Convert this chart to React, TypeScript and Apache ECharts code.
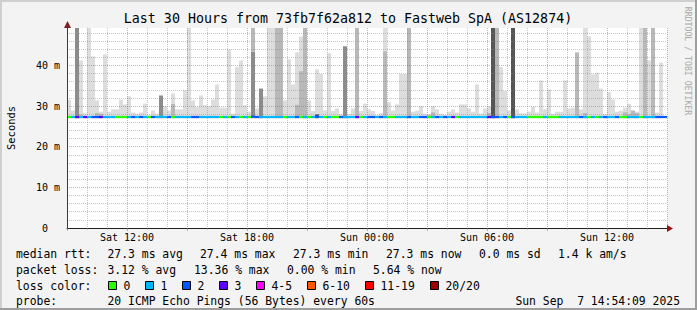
import React, { useEffect, useRef } from 'react';
import * as echarts from 'echarts';

// ---------- data ----------
const titleText = 'Last 30 Hours from 73fb7f62a812 to Fastweb SpA (AS12874)';
const watermarkText = 'RRDTOOL / TOBI OETIKER';
const yAxisName = 'Seconds';

const hoursMin = 0;
const hoursMax = 30;
const xTickHours = [3, 9, 15, 21, 27];
const xTickLabels = ['Sat 12:00', 'Sat 18:00', 'Sun 00:00', 'Sun 06:00', 'Sun 12:00'];

const yMin = 0;
const yMax = 49.2;
const yTickValues = [0, 10, 20, 30, 40];
const yTickLabels = ['0\u00a0\u00a0', '10 m', '20 m', '30 m', '40 m'];

const smokeBase = 27.0;

// loss code per 12-minute column (index into lossColors)
const lossCodes = [
  0, 1, 3, 1, 3, 1, 2, 2, 3, 1,
  1, 1, 0, 0, 0, 1, 2, 1, 2, 1,
  0, 2, 1, 1, 1, 2, 0, 1, 1, 1,
  1, 2, 2, 1, 1, 1, 1, 1, 0, 1,
  0, 2, 1, 0, 1, 0, 2, 2, 1, 1,
  1, 1, 1, 1, 0, 1, 1, 2, 0, 1,
  0, 1, 2, 1, 0, 1, 0, 0, 2, 1,
  1, 1, 3, 0, 1, 2, 2, 1, 2, 1,
  0, 0, 1, 1, 1, 2, 1, 1, 2, 2,
  0, 1, 2, 1, 2, 1, 3, 0, 1, 1,
  1, 1, 1, 1, 1, 3, 2, 2, 1, 2,
  0, 2, 1, 1, 1, 0, 0, 0, 0, 1,
  0, 0, 0, 1, 1, 1, 1, 1, 2, 1,
  0, 1, 0, 1, 2, 1, 1, 2, 0, 0,
  1, 1, 1, 0, 1, 1, 1, 2, 2, 2,
];

const medianRtt = [
  27.3, 27.3, 27.3, 27.3, 27.3, 27.3, 27.3, 27.3, 27.3, 27.3,
  27.3, 27.3, 27.3, 27.3, 27.3, 27.3, 27.3, 27.3, 27.3, 27.3,
  27.3, 27.3, 27.3, 27.4, 27.3, 27.3, 27.3, 27.3, 27.3, 27.3,
  27.3, 27.3, 27.3, 27.3, 27.3, 27.3, 27.3, 27.3, 27.3, 27.3,
  27.3, 27.3, 27.3, 27.3, 27.3, 27.3, 27.4, 27.3, 27.3, 27.3,
  27.3, 27.3, 27.3, 27.3, 27.3, 27.3, 27.3, 27.3, 27.3, 27.3,
  27.3, 27.3, 27.4, 27.3, 27.3, 27.3, 27.3, 27.3, 27.3, 27.3,
  27.3, 27.3, 27.3, 27.3, 27.3, 27.3, 27.3, 27.3, 27.3, 27.3,
  27.3, 27.3, 27.3, 27.3, 27.3, 27.3, 27.3, 27.3, 27.3, 27.3,
  27.3, 27.3, 27.3, 27.3, 27.3, 27.3, 27.3, 27.3, 27.3, 27.3,
  27.3, 27.3, 27.3, 27.3, 27.3, 27.3, 27.3, 27.3, 27.3, 27.3,
  27.3, 27.3, 27.3, 27.3, 27.3, 27.3, 27.3, 27.3, 27.3, 27.3,
  27.3, 27.3, 27.3, 27.3, 27.3, 27.3, 27.3, 27.3, 27.3, 27.3,
  27.3, 27.3, 27.3, 27.3, 27.3, 27.3, 27.3, 27.3, 27.3, 27.3,
  27.3, 27.3, 27.3, 27.3, 27.3, 27.3, 27.3, 27.3, 27.3, 27.3,
];

// smoke layer tops (ms); 0 = layer absent in this column
const smokeLight = [
  31.6, 28.9, 0, 41.2, 28.2, 50, 42.2, 31.4, 28.6, 42.7,
  28.6, 29.2, 29.2, 31.6, 30.4, 32.4, 28.4, 28.1, 28.4, 30.6,
  27.8, 28.9, 28.1, 0, 30.0, 28.9, 33.1, 29.2, 29.2, 33.9,
  50, 31.4, 29.8, 32.6, 30.2, 30.0, 31.6, 35.3, 29.6, 29.6,
  43.9, 28.1, 39.6, 41.2, 30.2, 28.6, 0, 29.4, 0, 32.4,
  50, 50, 0, 0, 31.4, 41.5, 35.3, 43.2, 47.1, 0,
  31.4, 28.8, 39.0, 37.9, 28.9, 43.0, 28.8, 29.4, 28.0, 0,
  28.0, 29.4, 0, 28.8, 30.6, 29.2, 28.8, 27.8, 28.2, 50,
  30.9, 28.9, 30.4, 37.9, 37.9, 0, 28.6, 28.9, 30.0, 28.1,
  28.0, 30.0, 29.2, 28.1, 27.8, 28.6, 29.2, 28.4, 30.4, 30.4,
  29.4, 28.6, 35.3, 28.1, 29.4, 30.0, 0, 0, 39.6, 33.7,
  28.9, 0, 29.2, 28.2, 28.2, 28.6, 29.8, 28.4, 36.3, 29.2,
  34.1, 28.1, 28.6, 28.6, 36.3, 29.4, 29.6, 0, 29.2, 50,
  47.1, 37.8, 38.2, 34.3, 28.0, 33.4, 31.6, 28.6, 28.9, 29.6,
  30.6, 0, 28.6, 50, 0, 41.2, 0, 28.4, 40.7, 0,
];

const smokeMid = [
  0, 0, 0, 28.0, 0, 0, 0, 28.3, 28.2, 0,
  0, 0, 0, 0, 0, 0, 0, 0, 0, 0,
  0, 0, 0, 0, 0, 0, 30.6, 0, 0, 0,
  0, 0, 0, 0, 0, 0, 0, 0, 0, 0,
  0, 0, 0, 0, 0, 0, 50, 0, 0, 0,
  0, 0, 50, 50, 0, 0, 0, 30.4, 38.6, 50,
  0, 0, 0, 0, 0, 0, 0, 0, 0, 0,
  0, 0, 50, 0, 0, 0, 0, 0, 0, 43.5,
  0, 0, 0, 0, 0, 50, 0, 0, 0, 0,
  27.9, 28.5, 0, 0, 0, 0, 0, 0, 0, 0,
  0, 0, 0, 0, 0, 28.3, 0, 50, 0, 0,
  0, 0, 0, 0, 0, 0, 0, 0, 0, 0,
  0, 0, 0, 0, 0, 0, 0, 43.2, 0, 28.4,
  0, 0, 0, 0, 0, 0, 0, 0, 0, 28.5,
  28.2, 28.9, 28.4, 0, 50, 0, 50, 0, 0, 0,
];

const smokeDark = [
  0, 0, 50, 0, 0, 0, 0, 0, 0, 0,
  0, 0, 0, 0, 0, 0, 0, 0, 0, 0,
  0, 0, 0, 32.6, 0, 0, 0, 0, 0, 0,
  0, 0, 0, 0, 0, 0, 0, 0, 0, 0,
  0, 0, 0, 0, 0, 0, 43.4, 0, 34.3, 0,
  0, 0, 0, 0, 0, 0, 0, 0, 0, 0,
  0, 0, 0, 0, 0, 0, 0, 0, 0, 44.7,
  0, 0, 0, 0, 0, 0, 0, 0, 0, 0,
  0, 0, 0, 0, 0, 0, 0, 0, 0, 0,
  0, 0, 0, 0, 0, 0, 0, 0, 0, 0,
  0, 0, 0, 0, 0, 0, 0, 0, 0, 0,
  0, 0, 0, 0, 0, 0, 0, 0, 0, 0,
  0, 0, 0, 0, 0, 0, 0, 0, 0, 0,
  0, 0, 0, 0, 0, 0, 0, 0, 0, 0,
  0, 0, 0, 0, 0, 0, 0, 0, 0, 0,
];

const smokeBlack = [
  0, 0, 0, 0, 0, 0, 0, 0, 0, 0,
  0, 0, 0, 0, 0, 0, 0, 0, 0, 0,
  0, 0, 0, 0, 0, 0, 0, 0, 0, 0,
  0, 0, 0, 0, 0, 0, 0, 0, 0, 0,
  0, 0, 0, 0, 0, 0, 0, 0, 0, 0,
  0, 0, 0, 0, 0, 0, 0, 0, 0, 0,
  0, 0, 28.0, 0, 0, 0, 0, 0, 0, 0,
  0, 0, 0, 0, 0, 0, 0, 0, 0, 0,
  0, 0, 0, 0, 0, 0, 0, 0, 0, 0,
  0, 0, 0, 0, 0, 0, 0, 0, 0, 0,
  0, 0, 0, 0, 0, 0, 50, 0, 0, 0,
  0, 50, 0, 0, 0, 0, 0, 0, 0, 0,
  0, 0, 0, 0, 0, 0, 0, 0, 0, 0,
  0, 0, 0, 0, 0, 0, 0, 0, 0, 0,
  0, 0, 0, 0, 0, 0, 0, 0, 0, 0,
];

const lossColors = ['#26ff00', '#00b8ff', '#0059ff', '#5e00ff', '#ff00ff', '#ff5500', '#ff0000', '#a10000'];
const lossLabels = ['0', '1', '2', '3', '4-5', '6-10', '11-19', '20/20'];

const medianTitle = 'median rtt:';
const medianStats = ['27.3 ms avg', '27.4 ms max', '27.3 ms min', '27.3 ms now', '0.0 ms sd', '1.4 k am/s'];
const lossTitle = 'packet loss:';
const lossStats = ['3.12 % avg', '13.36 % max', '0.00 % min', '5.64 % now'];
const colorTitle = 'loss color:';
const probeTitle = 'probe:';
const probeText = '20 ICMP Echo Pings (56 Bytes) every 60s';
const dateText = 'Sun Sep\u00a0 7 14:54:09 2025';

// ---------- layout / style ----------
const MONO = '"DejaVu Sans Mono", "Liberation Mono", monospace';
const GRID_MINOR = 'rgba(143,143,143,0.5)';
const GRID_MAJOR = 'rgba(205,80,80,0.5)';
const LAYER_COLORS = ['#555555', '#8c8c8c', '#b8b8b8', '#dddddd'];
const medianStatX = [107.5, 200, 293, 386, 479, 558];
const lossStatX = [107.5, 194, 287, 373];
const boxX = [108, 145, 182, 219, 256, 307, 365, 430];
const rowY = [254, 270, 286, 301];

export default function App() {
  const ref = useRef<HTMLDivElement>(null);

  useEffect(() => {
    if (!ref.current) return;
    const chart = echarts.init(ref.current, undefined, { renderer: 'svg' });
    const n = lossCodes.length;
    const cats = lossCodes.map((_, i) => String(i));

    const layers = [smokeBlack, smokeDark, smokeMid, smokeLight];
    const stacked: number[][] = layers.map(() => []);
    for (let i = 0; i < n; i++) {
      let prev = smokeBase;
      layers.forEach((arr, k) => {
        const top = Math.max(arr[i], prev);
        stacked[k].push(+(top - prev).toFixed(3));
        prev = top;
      });
    }
    const baseData = cats.map(() => smokeBase);
    const medBase = medianRtt.map((v) => +(v - 0.27).toFixed(3));
    const medBand = medianRtt.map((_, i) => ({
      value: 0.54,
      itemStyle: { color: lossColors[lossCodes[i]] },
    }));

    const barCommon = {
      type: 'bar',
      xAxisIndex: 2,
      yAxisIndex: 0,
      barWidth: '100%',
      barGap: '-100%',
      barCategoryGap: '0%',
      silent: true,
      clip: true,
    };

    const font = (size: number) => `${size}px ${MONO}`;
    const txt = (text: string, x: number, y: number, size = 11.4, align = 'left', fill = '#000') => ({
      type: 'text',
      x,
      y,
      silent: true,
      style: {
        text,
        font: font(size),
        fill,
        align,
        verticalAlign: 'middle',
        textAlign: align,
        textVerticalAlign: 'middle',
      },
    });

    const graphics: any[] = [
      { type: 'rect', shape: { x: 0, y: 0, width: 697, height: 2 }, style: { fill: '#cfcfcf' }, silent: true },
      { type: 'rect', shape: { x: 0, y: 0, width: 2, height: 310 }, style: { fill: '#cfcfcf' }, silent: true },
      { type: 'rect', shape: { x: 695, y: 0, width: 2, height: 310 }, style: { fill: '#9e9e9e' }, silent: true },
      { type: 'rect', shape: { x: 0, y: 308, width: 697, height: 2 }, style: { fill: '#9e9e9e' }, silent: true },
      txt(titleText, 348, 18, 13.3, 'center'),
      {
        type: 'text',
        x: 688,
        y: 61,
        rotation: -Math.PI / 2,
        silent: true,
        style: {
          text: watermarkText,
          font: font(8.2),
          fill: '#a8a8a8',
          align: 'center',
          verticalAlign: 'middle',
          textAlign: 'center',
          textVerticalAlign: 'middle',
        },
      },
      // axis arrows
      { type: 'polygon', z: 100, shape: { points: [[667, 225], [673, 228.5], [667, 232]] }, style: { fill: '#a01010' }, silent: true },
      { type: 'polygon', z: 100, shape: { points: [[64, 28], [67.5, 21], [71, 28]] }, style: { fill: '#801f1f' }, silent: true },
      txt(medianTitle, 16, rowY[0]),
      ...medianStats.map((s, i) => txt(s, medianStatX[i], rowY[0])),
      txt(lossTitle, 16, rowY[1]),
      ...lossStats.map((s, i) => txt(s, lossStatX[i], rowY[1])),
      txt(colorTitle, 16, rowY[2]),
      ...lossLabels.flatMap((lab, i) => [
        {
          type: 'rect',
          silent: true,
          shape: { x: boxX[i] + 0.5, y: rowY[2] - 4.5, width: 8, height: 8 },
          style: { fill: lossColors[i], stroke: '#000', lineWidth: 1 },
        },
        txt(lab, boxX[i] + 15.5, rowY[2]),
      ]),
      txt(probeTitle, 16, rowY[3]),
      txt(probeText, 107.5, rowY[3]),
      txt(dateText, 680, rowY[3], 11.4, 'right'),
    ];

    chart.setOption({
      animation: false,
      backgroundColor: '#f3f3f3',
      textStyle: { fontFamily: MONO },
      grid: {
        left: 67,
        top: 28,
        width: 600,
        height: 200,
        show: true,
        backgroundColor: '#ffffff',
        borderWidth: 0,
        containLabel: false,
        outerBoundsMode: 'none',
      },
      xAxis: [
        {
          type: 'value',
          min: hoursMin,
          max: hoursMax,
          interval: 1,
          position: 'bottom',
          z: 5,
          axisLine: { show: true, onZero: false, lineStyle: { color: '#1f1f1f', width: 1 } },
          axisTick: { show: true, length: 2, lineStyle: { color: GRID_MINOR } },
          axisLabel: { show: false },
          splitLine: {
            show: true,
            lineStyle: { color: [GRID_MAJOR, GRID_MINOR, GRID_MINOR], type: [1, 1], width: 1 },
          },
        },
        {
          type: 'value',
          min: hoursMin,
          max: hoursMax,
          interval: 3,
          position: 'bottom',
          z: 5,
          axisLine: { show: false, onZero: false },
          axisTick: { show: true, length: 3, lineStyle: { color: GRID_MAJOR } },
          splitLine: { show: false },
          axisLabel: {
            show: true,
            margin: 4,
            fontFamily: MONO,
            fontSize: 10,
            color: '#000',
            formatter: (v: number) => {
              const i = xTickHours.indexOf(v);
              return i >= 0 ? xTickLabels[i] : '';
            },
          },
        },
        {
          type: 'category',
          data: cats,
          show: false,
          boundaryGap: true,
        },
      ],
      yAxis: [
        {
          type: 'value',
          min: yMin,
          max: yMax,
          interval: 2,
          z: 5,
          axisLine: { show: true, onZero: false, lineStyle: { color: '#7a2020', width: 1 } },
          axisTick: { show: false },
          axisLabel: {
            show: true,
            margin: 7,
            fontFamily: MONO,
            fontSize: 10,
            color: '#000',
            showMaxLabel: false,
            formatter: (v: number) => {
              const i = yTickValues.indexOf(v);
              return i >= 0 ? yTickLabels[i] : '';
            },
          },
          splitLine: {
            show: true,
            showMaxLine: false,
            lineStyle: {
              color: [GRID_MAJOR, GRID_MINOR, GRID_MINOR, GRID_MINOR, GRID_MINOR],
              type: [1, 1],
              width: 1,
            },
          },
          name: yAxisName,
          nameLocation: 'middle',
          nameGap: 51,
          nameRotate: 90,
          nameTextStyle: { fontFamily: MONO, fontSize: 10.4, color: '#000' },
        },
      ],
      series: [
        { ...barCommon, name: 'smoke-base', stack: 'smoke', data: baseData, itemStyle: { color: 'rgba(0,0,0,0)' } },
        ...stacked.map((d, k) => ({
          ...barCommon,
          name: 'smoke-' + k,
          stack: 'smoke',
          data: d,
          itemStyle: { color: LAYER_COLORS[k] },
        })),
        { ...barCommon, name: 'median-base', stack: 'median', data: medBase, itemStyle: { color: 'rgba(0,0,0,0)' } },
        { ...barCommon, name: 'median', stack: 'median', data: medBand },
      ],
      graphic: { elements: graphics },
    });

    return () => chart.dispose();
  }, []);

  return (
    <div
      ref={ref}
      style={{ position: 'absolute', left: 0, top: 0, width: 697, height: 310 }}
    />
  );
}
